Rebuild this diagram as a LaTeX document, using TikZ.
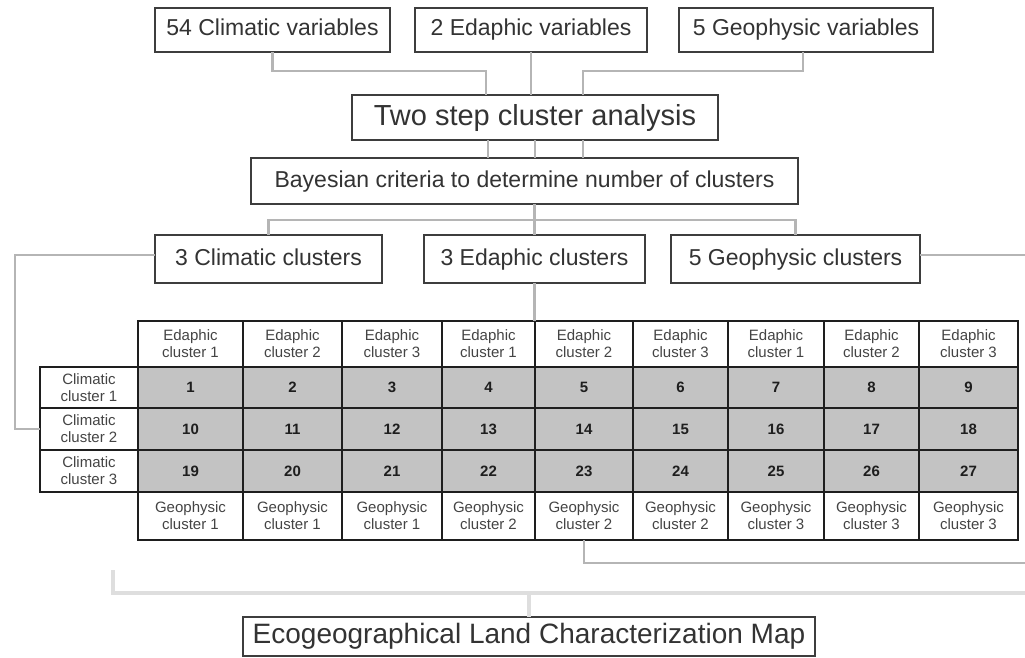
\documentclass[tikz,border=0pt]{standalone}
\usepackage{fontspec}
\setmainfont{Liberation Sans}
\definecolor{boxc}{HTML}{3D3D3D}
\definecolor{txtc}{HTML}{333333}
\definecolor{smallc}{HTML}{444444}
\definecolor{tabc}{HTML}{1E1E1E}
\definecolor{cellg}{HTML}{C3C3C3}
\definecolor{connc}{HTML}{B5B5B5}
\definecolor{lightc}{HTML}{DEDEDE}
\begin{document}
\begin{tikzpicture}[x=1pt,y=-1pt,
  box/.style={draw=boxc, line width=2.6pt, fill=white, inner sep=0pt, outer sep=0pt,
    text=txtc, font=\fontsize{23}{26}\selectfont, text height=17pt, text depth=5pt},
  bigbox/.style={box, font=\fontsize{29}{32}\selectfont, text height=21pt, text depth=6pt},
  conn/.style={draw=connc, line width=2.4pt},
  lightconn/.style={draw=lightc, line width=4pt},
  cell/.style={draw=tabc, line width=2.6pt, inner sep=0pt, outer sep=0pt,
    align=center, text=smallc, font=\fontsize{15}{17}\selectfont},
  numcell/.style={cell, fill=cellg, text=tabc, font=\bfseries\fontsize{15}{17}\selectfont},
  labcell/.style={cell, fill=white}
]
\useasboundingbox[fill=white] (0,0) rectangle (1025,658);

% top boxes
\node[box, minimum width=235, minimum height=44] (cv) at (272.5,30) {54 Climatic variables};
\node[box, minimum width=232, minimum height=44] (ev) at (531,30) {2 Edaphic variables};
\node[box, minimum width=254, minimum height=44] (gv) at (806,30) {5 Geophysic variables};

% analysis boxes
\node[bigbox, minimum width=366, minimum height=45] (ts) at (535,117.5) {Two step cluster analysis};
\node[box, minimum width=547, minimum height=46] (bay) at (524.5,181) {Bayesian criteria to determine number of clusters};

% cluster boxes
\node[box, minimum width=227, minimum height=48] (cc) at (268.5,259) {3 Climatic clusters};
\node[box, minimum width=221, minimum height=48] (ec) at (534.5,259) {3 Edaphic clusters};
\node[box, minimum width=249, minimum height=48] (gc) at (795.5,259) {5 Geophysic clusters};

% final box
\node[bigbox, font=\fontsize{28}{31}\selectfont, text height=20pt, text depth=6pt, minimum width=572, minimum height=39] (eco) at (529,636.5) {Ecogeographical Land Characterization Map};

% table
\foreach \i/\xa/\xb/\e/\g in {1/138/243/1/1, 2/243/342/2/1, 3/342/442/3/1, 4/442/535/1/2, 5/535/633/2/2, 6/633/728/3/2, 7/728/824/1/3, 8/824/919/2/3, 9/919/1018/3/3}{
  \node[labcell, minimum width={\xb-\xa}, minimum height=46] (h\i) at ({(\xa+\xb)/2},344) {Edaphic\\cluster \e};
  \pgfmathtruncatemacro{\na}{\i}
  \pgfmathtruncatemacro{\nb}{\i+9}
  \pgfmathtruncatemacro{\nc}{\i+18}
  \node[numcell, minimum width={\xb-\xa}, minimum height=41] (a\i) at ({(\xa+\xb)/2},387.5) {\na};
  \node[numcell, minimum width={\xb-\xa}, minimum height=42] (b\i) at ({(\xa+\xb)/2},429) {\nb};
  \node[numcell, minimum width={\xb-\xa}, minimum height=42] (c\i) at ({(\xa+\xb)/2},471) {\nc};
  \node[labcell, minimum width={\xb-\xa}, minimum height=48] (f\i) at ({(\xa+\xb)/2},516) {Geophysic\\cluster \g};
}
\node[labcell, minimum width=98, minimum height=41] (rh1) at (89,387.5) {Climatic\\cluster 1};
\node[labcell, minimum width=98, minimum height=42] (rh2) at (89,429) {Climatic\\cluster 2};
\node[labcell, minimum width=98, minimum height=42] (rh3) at (89,471) {Climatic\\cluster 3};

% free ends
\coordinate (gcR) at (1025,255);
\coordinate (botR) at (1025,563);
\coordinate (bl) at (113,570);
\coordinate (br) at (1025,593);

% connectors: variables -> two step
\draw[conn] (cv.south) -- ++(0,19) -| ([xshift=-49pt]ts.north);
\draw[conn] (ev.south) -- (ev.south |- ts.north);
\draw[conn] ([xshift=-3pt]gv.south) -- ++(0,19) -| ([xshift=48pt]ts.north);
% two step -> bayesian
\draw[conn] ([xshift=-47pt]ts.south) -- ([xshift=-47pt]ts.south |- bay.north);
\draw[conn] (ts.south) -- (ts.south |- bay.north);
\draw[conn] ([xshift=48pt]ts.south) -- ([xshift=48pt]ts.south |- bay.north);
% bayesian -> clusters
\draw[conn] (ec.north |- bay.south) -- (ec.north);
\draw[conn] (cc.north) -- ++(0,-15) -| (gc.north);
% clusters -> table
\draw[conn] ([yshift=4pt]cc.west) -- ++(-140,0) |- (rh2.west);
\draw[conn] (ec.south) -- (ec.south |- h5.north);
\draw[conn] ([yshift=4pt]gc.east) -- (gcR);
% table -> map
\draw[conn] (f5.south) |- (botR);
\draw[lightconn] (bl) |- (br);
\draw[lightconn] (eco.north |- br) -- (eco.north);
\end{tikzpicture}
\end{document}
